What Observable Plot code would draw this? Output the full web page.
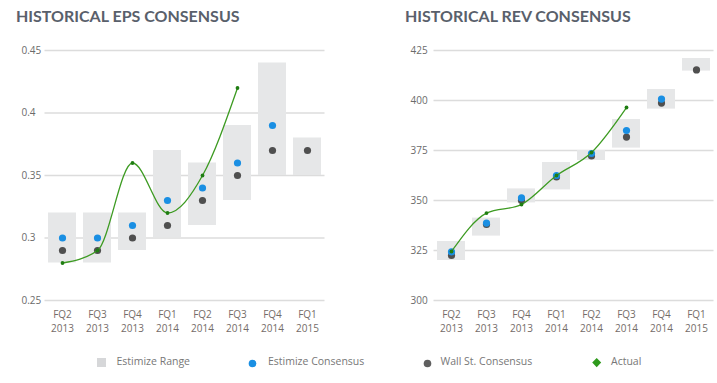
<!DOCTYPE html>
<html>
<head>
<meta charset="utf-8">
<script src="https://cdn.jsdelivr.net/npm/d3@7"></script>
<script src="https://cdn.jsdelivr.net/npm/@observablehq/plot@0.6"></script>
<style>
  html, body { margin: 0; padding: 0; background: #fff; }
  #wrap { position: relative; width: 717px; height: 383px; overflow: hidden; font-family: "Open Sans", sans-serif; }
  .title { position: absolute; top: 6px; font-family: Lato, sans-serif; font-weight: 700; font-size: 16px; color: #59606b; letter-spacing: 0px; white-space: nowrap; line-height: 20px; }
  .panel { position: absolute; top: 0; }
  #legend { position: absolute; left: 0; top: 352px; width: 717px; height: 20px; font-size: 10.5px; color: #777; }
  .lg { position: absolute; top: 2px; white-space: nowrap; line-height: 14px; }
  .sw { position: absolute; }
</style>
</head>
<body>
<div id="wrap">
  <div class="title" style="left:16px">HISTORICAL EPS CONSENSUS</div>
  <div class="title" style="left:405px">HISTORICAL REV CONSENSUS</div>
  <div class="panel" id="left" style="left:0px"></div>
  <div class="panel" id="right" style="left:358px"></div>
  <div id="legend"></div>
</div>
<script>
// ---- data ----
const quarters = ["FQ2 2013", "FQ3 2013", "FQ4 2013", "FQ1 2014", "FQ2 2014", "FQ3 2014", "FQ4 2014", "FQ1 2015"];

// EPS
const epsRangeLow  = [0.28, 0.28, 0.29, 0.30, 0.31, 0.33, 0.35, 0.35];
const epsRangeHigh = [0.32, 0.32, 0.32, 0.37, 0.36, 0.39, 0.44, 0.38];
const epsEstimize  = [0.30, 0.30, 0.31, 0.33, 0.34, 0.36, 0.39, null];
const epsWallSt    = [0.29, 0.29, 0.30, 0.31, 0.33, 0.35, 0.37, 0.37];
const epsActual    = [0.28, 0.29, 0.36, 0.32, 0.35, 0.42, null, null];
const epsTicks     = [0.25, 0.3, 0.35, 0.4, 0.45];

// Revenue
const revRangeLow  = [320, 332.2, 348.8, 355.3, 370, 376.2, 395.7, 414.7];
const revRangeHigh = [329.5, 341.2, 355.8, 369, 375, 390.5, 405.5, 421];
const revEstimize  = [324.3, 338.7, 351.3, 362.5, 373.5, 385, 400.7, null];
const revWallSt    = [322.5, 338, 350, 361.8, 372.3, 381.7, 398.7, 415.3];
const revActual    = [324.5, 343.7, 348, 362.5, 374, 396.5, null, null];
const revTicks     = [300, 325, 350, 375, 400, 425];

const legendLabels = ["Estimize Range", "Estimize Consensus", "Wall St. Consensus", "Actual"];

// ---- colors ----
const cRange = "#e6e7e8", cEst = "#1a8fe3", cWall = "#4f4f4f", cLine = "#3d9b22", cAct = "#1f7d12";

function build(low, high, est, wall, act, ticks, yDomain, opts) {
  const rows = quarters.map((q, i) => ({q, low: low[i], high: high[i], est: est[i], wall: wall[i], act: act[i]}));
  const actRows = rows.filter(d => d.act != null);
  return Plot.plot({
    width: opts.width,
    height: 340,
    marginTop: 50,
    marginBottom: 40,
    marginLeft: opts.marginLeft,
    marginRight: opts.marginRight,
    style: {fontFamily: "'Open Sans', sans-serif", fontSize: "10px", color: "#6b6b6b", background: "transparent"},
    x: {type: "band", domain: quarters, paddingInner: 0.2, paddingOuter: 0.1, axis: null},
    y: {domain: yDomain, axis: null},
    marks: [
      Plot.gridY(ticks, {stroke: "#dcdcdc", strokeOpacity: 1, strokeWidth: 1.5}),
      Plot.axisY(ticks, {anchor: "left", label: null, tickSize: 0, tickPadding: 23.5, textAnchor: "start", fill: "#6b6b6b", fontSize: 10, tickFormat: d => String(d)}),
      Plot.axisX(quarters, {anchor: "bottom", label: null, tickSize: 0, tickPadding: 8, fill: "#746c68", fontSize: 10, lineHeight: 1.36, tickFormat: d => d.replace(" ", "\n")}),
      Plot.barY(rows, {x: "q", y1: "low", y2: "high", fill: cRange}),
      Plot.dot(rows.filter(d => d.wall != null), {x: "q", y: "wall", r: 3.6, fill: cWall}),
      Plot.dot(rows.filter(d => d.est != null), {x: "q", y: "est", r: 3.6, fill: cEst}),
      Plot.line(actRows, {x: "q", y: "act", stroke: cLine, strokeWidth: 1.3, curve: "monotone-x"}),
      Plot.dot(actRows, {x: "q", y: "act", r: 1.9, fill: cAct})
    ]
  });
}

document.getElementById("left").append(
  build(epsRangeLow, epsRangeHigh, epsEstimize, epsWallSt, epsActual, epsTicks, [0.25, 0.45],
        {width: 358, marginLeft: 44.5, marginRight: 33.5})
);
document.getElementById("right").append(
  build(revRangeLow, revRangeHigh, revEstimize, revWallSt, revActual, revTicks, [300, 425],
        {width: 359, marginLeft: 75.5, marginRight: 3.5})
);

// ---- legend ----
const lg = document.getElementById("legend");
const swatches = [
  {x: 97, html: `<svg width="10" height="10"><rect x="0" y="0" width="9" height="9" fill="#d6d7d9"/></svg>`, tx: 116.5},
  {x: 247.5, html: `<svg width="9" height="9"><circle cx="4.5" cy="4.5" r="3.8" fill="${cEst}"/></svg>`, tx: 268},
  {x: 422.5, html: `<svg width="9" height="9"><circle cx="4.5" cy="4.5" r="3.8" fill="#5f5f5f"/></svg>`, tx: 440.5},
  {x: 592, html: `<svg width="10" height="10"><path d="M4.7 0 L9.2 4.6 L4.7 9.2 L0.2 4.6 Z" fill="#2f9a1c"/></svg>`, tx: 611}
];
swatches.forEach((s, i) => {
  const sw = document.createElement("div");
  sw.className = "sw"; sw.style.left = s.x + "px"; sw.style.top = "5px"; sw.innerHTML = s.html;
  lg.append(sw);
  const t = document.createElement("div");
  t.className = "lg"; t.style.left = s.tx + "px"; t.textContent = legendLabels[i];
  lg.append(t);
});
</script>
</body>
</html>
